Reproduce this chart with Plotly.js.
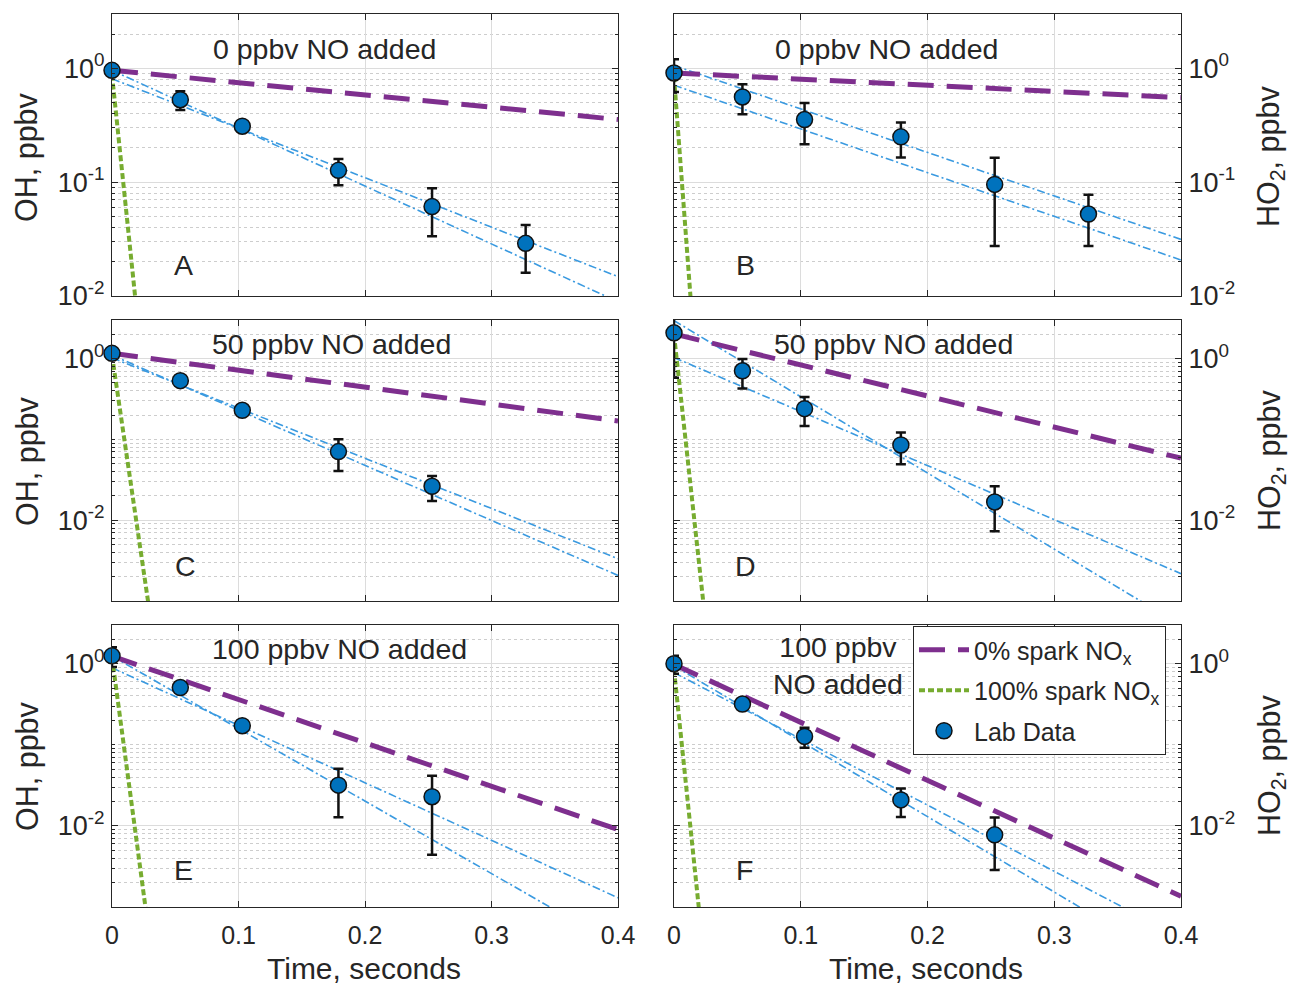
<!DOCTYPE html>
<html><head><meta charset="utf-8">
<script src="https://cdn.plot.ly/plotly-3.0.1.min.js"></script>
<style>body{margin:0;padding:0;background:#fff}#chart{width:1297px;height:988px}</style>
</head><body><div id="chart"></div>
<script>
// ---------------- data ----------------
const xTickVals = [0, 0.1, 0.2, 0.3, 0.4];
const xTickText = ['0', '0.1', '0.2', '0.3', '0.4'];
const yTickValsTop = [0.01, 0.1, 1];
const yTickTextTop = ['10<sup>-2</sup>', '10<sup>-1</sup>', '10<sup>0</sup>'];
const yTickValsLow = [0.01, 1];
const yTickTextLow = ['10<sup>-2</sup>', '10<sup>0</sup>'];
const yMinorTop = [0.02,0.03,0.04,0.05,0.06,0.07,0.08,0.09,0.2,0.3,0.4,0.5,0.6,0.7,0.8,0.9,2];
const yMinorLow = [0.002,0.003,0.004,0.005,0.006,0.007,0.008,0.009,0.02,0.03,0.04,0.05,0.06,0.07,0.08,0.09,0.1,0.2,0.3,0.4,0.5,0.6,0.7,0.8,0.9,2];

const panelLetters = ['A', 'B', 'C', 'D', 'E', 'F'];
const panelTitles = ['0 ppbv NO added', '0 ppbv NO added', '50 ppbv NO added', '50 ppbv NO added', '100 ppbv NO added', '100 ppbv<br>NO added'];

const timeLab6 = [0, 0.054, 0.103, 0.179, 0.253, 0.327];
const timeLab5 = [0, 0.054, 0.103, 0.179, 0.253];

const labA = [0.96, 0.53, 0.31, 0.127, 0.061, 0.029];
const errA = [0.08, 0.1, 0.03, 0.033, 0.0275, 0.013];
const labB = [0.91, 0.56, 0.355, 0.25, 0.0955, 0.0525];
const errB = [0.29, 0.165, 0.14, 0.085, 0.068, 0.025];
const labC = [1.16, 0.533, 0.229, 0.0706, 0.0263];
const errC = [0.1, 0.05, 0.02, 0.03, 0.009];
const labD = [2.08, 0.706, 0.24, 0.0853, 0.0168];
const errD = [1.5, 0.28, 0.094, 0.036, 0.0095];
const labE = [1.25, 0.508, 0.172, 0.0318, 0.0229];
const errE = [0.34, 0.04, 0.02, 0.019, 0.0185];
const labF = [1.0, 0.318, 0.127, 0.0209, 0.00776];
const errF = [0.25, 0.03, 0.035, 0.008, 0.0049];

// model curves: values read at the start and end of each line
const modelTime = [0, 0.4];
const purpleA = [0.96, 0.355];
const purpleB = [0.91, 0.553];
const purpleC = [1.16, 0.169];
const purpleD = [2.02, 0.0585];
const purpleE = [1.24, 0.009];
const purpleF = [0.98, 0.00136];

const blue1A = [0.81, 0.0148];
const blue2A = [0.96, 0.0089];
const blue1B = [1.06, 0.0314];
const blue2B = [0.71, 0.0207];
const blue1C = [1.02, 0.00334];
const blue2C = [1.10, 0.00207];
const blue1D = [2.95, 0.0005];
const blue2D = [1.03, 0.00218];
const blue1E = [1.24, 0.00033];
const blue2E = [0.89, 0.0013];
const blue1F = [0.94, 0.00018];
const blue2F = [0.776, 0.00042];

const greenTimeA = [0, 0.025];
const greenA = [0.88, 0.0019];
const greenTimeB = [0, 0.02];
const greenB = [0.85, 0.0009];
const greenTimeC = [0, 0.035];
const greenC = [1.1, 0.0002];
const greenTimeD = [0, 0.03];
const greenD = [2.0, 0.0001];
const greenTimeE = [0, 0.035];
const greenE = [1.2, 0.0001];
const greenTimeF = [0, 0.025];
const greenF = [0.85, 0.00015];

// ---------------- styling / layout ----------------
const W = 1297, H = 988;
const FONT = '"Liberation Sans", Arial, Helvetica, sans-serif';
const TXT = '#262626';
const cPurple = '#7E2F8E', cGreen = '#77AC30', cBlue = '#0072BD', cBlueLine = '#3a9ae0';
const px = v => v / W, py = v => 1 - v / H;

const colDom = [[px(112), px(618)], [px(674), px(1181)]];
const rowDom = [[py(296), py(14)], [py(601), py(320)], [py(907), py(625)]];

const panels = [
  {t: timeLab6, lab: labA, err: errA, b1: blue1A, b2: blue2A, pu: purpleA, gt: greenTimeA, g: greenA},
  {t: timeLab6, lab: labB, err: errB, b1: blue1B, b2: blue2B, pu: purpleB, gt: greenTimeB, g: greenB},
  {t: timeLab5, lab: labC, err: errC, b1: blue1C, b2: blue2C, pu: purpleC, gt: greenTimeC, g: greenC},
  {t: timeLab5, lab: labD, err: errD, b1: blue1D, b2: blue2D, pu: purpleD, gt: greenTimeD, g: greenD},
  {t: timeLab5, lab: labE, err: errE, b1: blue1E, b2: blue2E, pu: purpleE, gt: greenTimeE, g: greenE},
  {t: timeLab5, lab: labF, err: errF, b1: blue1F, b2: blue2F, pu: purpleF, gt: greenTimeF, g: greenF}
];

const traces = [];
const layout = {
  width: W, height: H, margin: {l: 0, r: 0, t: 0, b: 0},
  paper_bgcolor: '#fff', plot_bgcolor: '#fff',
  font: {family: FONT, color: TXT, size: 24},
  showlegend: true,
  legend: {x: px(913), y: py(626), xanchor: 'left', yanchor: 'top',
           bgcolor: '#fff', bordercolor: TXT, borderwidth: 1,
           font: {family: FONT, size: 25, color: TXT},
           traceorder: 'grouped', tracegroupgap: 5, itemwidth: 50},
  annotations: []
};

panels.forEach((p, i) => {
  const n = i + 1;
  const xa = n === 1 ? 'x' : 'x' + n;
  const ya = n === 1 ? 'y' : 'y' + n;
  const col = i % 2, row = Math.floor(i / 2);
  const isTop = row === 0, isBottom = row === 2;

  layout['xaxis' + (n === 1 ? '' : n)] = {
    domain: colDom[col], anchor: ya, range: [0, 0.4],
    tickmode: 'array', tickvals: xTickVals, ticktext: xTickText,
    showticklabels: isBottom, ticks: 'inside', ticklen: 6, tickcolor: TXT,
    showline: true, linecolor: TXT, linewidth: 1, mirror: 'ticks',
    showgrid: true, gridcolor: '#dcdcdc', gridwidth: 1, zeroline: false,
    tickfont: {family: FONT, size: 25, color: TXT}, ticklabelstandoff: 6
  };
  layout['yaxis' + (n === 1 ? '' : n)] = {
    domain: rowDom[row], anchor: xa, type: 'log',
    range: [isTop ? -2 : -3, Math.log10(3)],
    tickmode: 'array',
    tickvals: isTop ? yTickValsTop : yTickValsLow,
    ticktext: isTop ? yTickTextTop : yTickTextLow,
    side: col === 0 ? 'left' : 'right',
    ticks: 'inside', ticklen: 6, tickcolor: TXT,
    showline: true, linecolor: TXT, linewidth: 1, mirror: 'ticks',
    showgrid: true, gridcolor: '#dcdcdc', gridwidth: 1, zeroline: false,
    minor: {tickmode: 'array', tickvals: isTop ? yMinorTop : yMinorLow,
            showgrid: true, gridcolor: '#cdcdcd', griddash: 'dot', gridwidth: 1,
            ticks: 'inside', ticklen: 3, tickcolor: TXT},
    tickfont: {family: FONT, size: 27, color: TXT}, ticklabelstandoff: 1
  };

  const leg = (i === 5);
  const dashDot = '8px,3px,2px,3px';
  traces.push({x: modelTime, y: p.b1, xaxis: xa, yaxis: ya, mode: 'lines', showlegend: false,
               line: {color: cBlueLine, width: 1.6, dash: dashDot}, hoverinfo: 'skip'});
  traces.push({x: modelTime, y: p.b2, xaxis: xa, yaxis: ya, mode: 'lines', showlegend: false,
               line: {color: cBlueLine, width: 1.6, dash: dashDot}, hoverinfo: 'skip'});
  traces.push({x: modelTime, y: p.pu, xaxis: xa, yaxis: ya, mode: 'lines',
               name: '0% spark NO<sub>x</sub>', showlegend: leg, legendgroup: 'g1', legendrank: 1,
               line: {color: cPurple, width: 5, dash: '26px,13px'}});
  traces.push({x: p.gt, y: p.g, xaxis: xa, yaxis: ya, mode: 'lines',
               name: '100% spark NO<sub>x</sub>', showlegend: leg, legendgroup: 'g2', legendrank: 2,
               line: {color: cGreen, width: 4, dash: '6px,3px'}});
  traces.push({x: p.t, y: p.lab, xaxis: xa, yaxis: ya, mode: 'markers', showlegend: false,
               marker: {size: 1, color: 'rgba(0,0,0,0)'},
               error_y: {type: 'data', array: p.err, visible: true, color: '#111', thickness: 2.5, width: 5}});
  traces.push({x: p.t, y: p.lab, xaxis: xa, yaxis: ya, mode: 'markers', cliponaxis: false,
               name: 'Lab Data', showlegend: leg, legendgroup: 'g3', legendrank: 3,
               marker: {size: 16, color: cBlue, line: {color: '#111', width: 1.5}}});
});

// panel texts
const titlePos = [[324, 49], [886, 49], [331, 344], [893, 344], [339, 649], [838, 665]];
const letterPos = [[184, 265], [745, 265], [185, 566], [745, 566], [184, 870], [744, 870]];
panelTitles.forEach((t, i) => {
  layout.annotations.push({text: t, xref: 'paper', yref: 'paper', x: px(titlePos[i][0]), y: py(titlePos[i][1]),
    xanchor: 'center', yanchor: 'middle', showarrow: false, align: 'center',
    font: {family: FONT, size: 28.5, color: TXT}});
  layout.annotations.push({text: panelLetters[i], xref: 'paper', yref: 'paper', x: px(letterPos[i][0]), y: py(letterPos[i][1]),
    xanchor: 'center', yanchor: 'middle', showarrow: false,
    font: {family: FONT, size: 28.5, color: TXT}});
});
// axis titles
const rowCenters = [157, 461, 766];
rowCenters.forEach(yc => {
  layout.annotations.push({text: 'OH, ppbv', xref: 'paper', yref: 'paper', x: px(27), y: py(yc),
    xanchor: 'center', yanchor: 'middle', textangle: -90, showarrow: false,
    font: {family: FONT, size: 30.5, color: TXT}});
  layout.annotations.push({text: 'HO<sub>2</sub>, ppbv', xref: 'paper', yref: 'paper', x: px(1271), y: py(yc),
    xanchor: 'center', yanchor: 'middle', textangle: -90, showarrow: false,
    font: {family: FONT, size: 30.5, color: TXT}});
});
[364, 926].forEach(xc => {
  layout.annotations.push({text: 'Time, seconds', xref: 'paper', yref: 'paper', x: px(xc), y: py(968),
    xanchor: 'center', yanchor: 'middle', showarrow: false,
    font: {family: FONT, size: 30, color: TXT}});
});

Plotly.newPlot('chart', traces, layout, {displayModeBar: false, staticPlot: true});
</script>
</body></html>
